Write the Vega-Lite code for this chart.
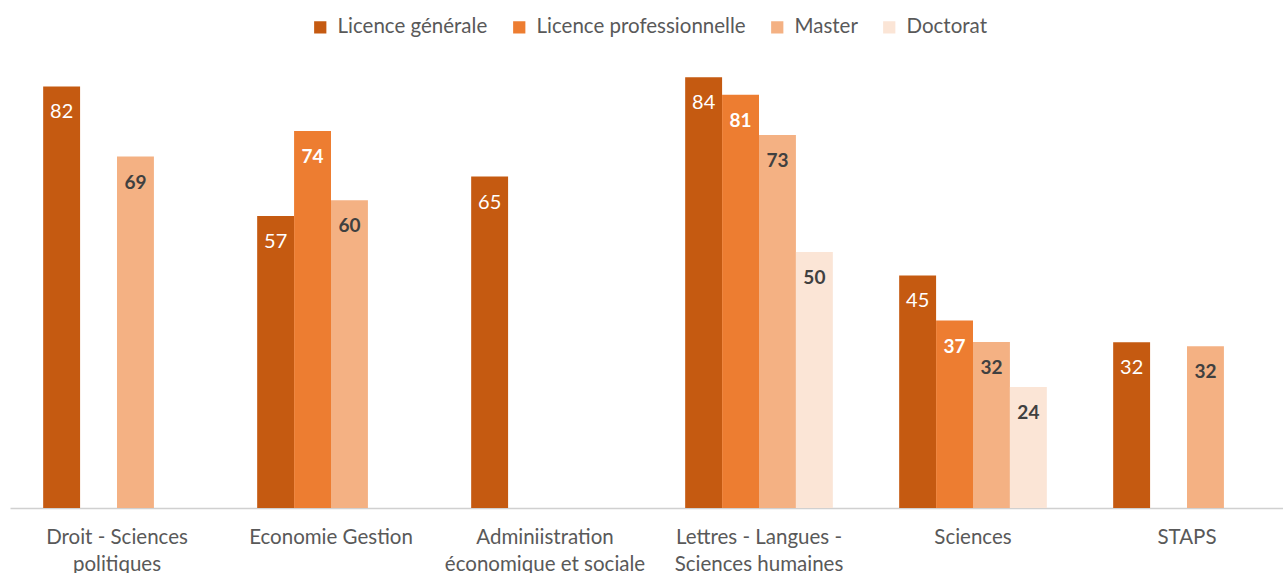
{
  "$schema": "https://vega.github.io/schema/vega-lite/v6.json",
  "autosize": {"type": "none"},
  "padding": {"left": 10, "top": 47, "right": 0, "bottom": 65},
  "width": 1284,
  "height": 461,
  "background": "white",
  "config": {"view": {"stroke": null}, "font": "Lato"},
  "data": {
    "values": [
      {"filiere": "Droit - Sciences politiques", "diplome": "Licence générale", "valeur": 82.3},
      {"filiere": "Droit - Sciences politiques", "diplome": "Master", "valeur": 68.6},
      {"filiere": "Economie Gestion", "diplome": "Licence générale", "valeur": 57.0},
      {"filiere": "Economie Gestion", "diplome": "Licence professionnelle", "valeur": 73.6},
      {"filiere": "Economie Gestion", "diplome": "Master", "valeur": 60.1},
      {"filiere": "Adminiistration économique et sociale", "diplome": "Licence générale", "valeur": 64.7},
      {"filiere": "Lettres - Langues - Sciences humaines", "diplome": "Licence générale", "valeur": 84.1},
      {"filiere": "Lettres - Langues - Sciences humaines", "diplome": "Licence professionnelle", "valeur": 80.7},
      {"filiere": "Lettres - Langues - Sciences humaines", "diplome": "Master", "valeur": 72.8},
      {"filiere": "Lettres - Langues - Sciences humaines", "diplome": "Doctorat", "valeur": 50.0},
      {"filiere": "Sciences", "diplome": "Licence générale", "valeur": 45.4},
      {"filiere": "Sciences", "diplome": "Licence professionnelle", "valeur": 36.6},
      {"filiere": "Sciences", "diplome": "Master", "valeur": 32.4},
      {"filiere": "Sciences", "diplome": "Doctorat", "valeur": 23.6},
      {"filiere": "STAPS", "diplome": "Licence générale", "valeur": 32.35},
      {"filiere": "STAPS", "diplome": "Master", "valeur": 31.6}
    ]
  },
  "encoding": {
    "x": {
      "field": "filiere", "type": "nominal", "sort": null,
      "scale": {"paddingInner": 0.31, "paddingOuter": 0.155},
      "axis": {
        "title": null, "ticks": false, "domainColor": "#D0D0D0", "domainWidth": 1.5,
        "labelAngle": 0, "labelFontSize": 20.5, "labelColor": "#595959", "labelFont": "Lato",
        "labelPadding": 29, "labelLineHeight": 27, "labelBaseline": "middle", "labelLimit": 0,
        "labelExpr": "datum.value == 'Droit - Sciences politiques' ? ['Droit - Sciences', 'politiques'] : datum.value == 'Adminiistration économique et sociale' ? ['Adminiistration', 'économique et sociale'] : datum.value == 'Lettres - Langues - Sciences humaines' ? ['Lettres - Langues -', 'Sciences humaines'] : datum.value"
      }
    },
    "xOffset": {
      "field": "diplome", "type": "nominal",
      "scale": {"domain": ["Licence générale", "Licence professionnelle", "Master", "Doctorat"], "paddingInner": 0, "paddingOuter": 0}
    },
    "y": {
      "field": "valeur", "type": "quantitative",
      "scale": {"domain": [0, 90], "nice": false},
      "axis": null
    }
  },
  "layer": [
    {
      "mark": {"type": "bar"},
      "encoding": {
        "color": {
          "field": "diplome", "type": "nominal",
          "scale": {"domain": ["Licence générale", "Licence professionnelle", "Master", "Doctorat"], "range": ["#C55A11", "#ED7D31", "#F4B183", "#FBE5D6"]},
          "legend": {
            "title": null, "orient": "none", "direction": "horizontal",
            "legendX": 300, "legendY": -30, "padding": 0,
            "symbolType": "square", "symbolSize": 150, "symbolStrokeWidth": 0,
            "labelFontSize": 20.5, "labelColor": "#595959", "labelFont": "Lato", "labelLimit": 0,
            "labelOffset": 7, "columnPadding": 21
          }
        }
      }
    },
    {
      "transform": [{"filter": "datum.diplome == 'Licence générale'"}],
      "mark": {"type": "text", "baseline": "middle", "align": "center", "dy": 26, "fontSize": 20, "color": "white"},
      "encoding": {"text": {"field": "valeur", "type": "quantitative", "format": ".0f"}}
    },
    {
      "transform": [{"filter": "datum.diplome == 'Licence professionnelle'"}],
      "mark": {"type": "text", "baseline": "middle", "align": "center", "dy": 26, "fontSize": 19, "fontWeight": "bold", "color": "white"},
      "encoding": {"text": {"field": "valeur", "type": "quantitative", "format": ".0f"}}
    },
    {
      "transform": [{"filter": "datum.diplome == 'Master' || datum.diplome == 'Doctorat'"}],
      "mark": {"type": "text", "baseline": "middle", "align": "center", "dy": 26, "fontSize": 19, "fontWeight": "bold", "color": "#404040"},
      "encoding": {"text": {"field": "valeur", "type": "quantitative", "format": ".0f"}}
    }
  ]
}
